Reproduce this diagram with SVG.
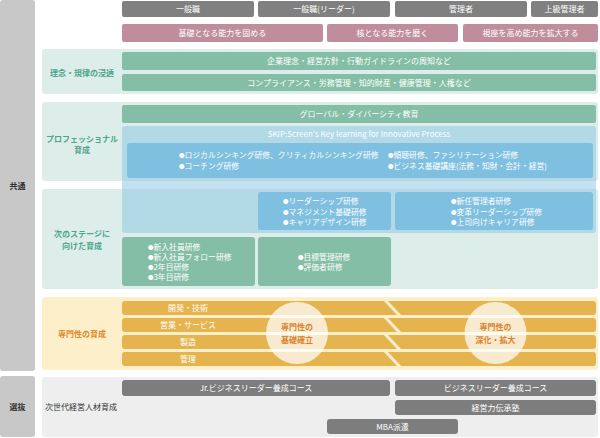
<svg xmlns="http://www.w3.org/2000/svg" width="600" height="438" viewBox="0 0 600 438">
<style>
text{font-family:"Noto Sans CJK JP","Noto Sans",sans-serif;font-size:8px;}
.w{fill:#fff;text-anchor:middle;}
.wl{fill:#fff;text-anchor:start;font-size:7.8px;}
.bu{font-size:5.5px;}
.lab{fill:#4fa58a;font-weight:bold;text-anchor:middle;}
.side{fill:#333;font-weight:bold;text-anchor:middle;}
.gh{fill:#808080;}
.pk{fill:#c08d9c;}
.tbg{fill:#ddeeea;}
.tb{fill:#84bea6;}
.bb{fill:#7fbfdf;}
.yb{fill:#e5b44f;}
.db{fill:#7d7d7d;}
.dia{stroke:#fcefc9;stroke-width:3;}
.circ{fill:#fff;fill-opacity:0.72;}
.ot{fill:#d9822b;font-weight:bold;text-anchor:middle;}
</style>
<rect width="600" height="438" fill="#fff"/>
<g id="side-common"><rect x="0" y="0" width="35" height="371" rx="3" fill="#c8c8c8"/><text class="side" x="17.5" y="189">共通</text></g>
<g id="side-select"><rect x="0" y="376" width="35" height="61" rx="3" fill="#c8c8c8"/><text class="side" x="17.5" y="410">選抜</text></g>

<g id="head1"><rect class="gh" x="122" y="1" width="132" height="16" rx="2"/><text class="w" x="188" y="12">一般職</text></g>
<g id="head2"><rect class="gh" x="258" y="1" width="132" height="16" rx="2"/><text class="w" x="324" y="12">一般職(リーダー)</text></g>
<g id="head3"><rect class="gh" x="395" y="1" width="132" height="16" rx="2"/><text class="w" x="461" y="12">管理者</text></g>
<g id="head4"><rect class="gh" x="531" y="1" width="67" height="16" rx="2"/><text class="w" x="564.5" y="12">上級管理者</text></g>

<g id="goal1"><rect class="pk" x="122" y="24" width="201" height="18" rx="2"/><text class="w" x="222.5" y="36">基礎となる能力を固める</text></g>
<g id="goal2"><rect class="pk" x="327" y="24" width="131" height="18" rx="2"/><text class="w" x="392.5" y="36">核となる能力を磨く</text></g>
<g id="goal3"><rect class="pk" x="463" y="24" width="135" height="18" rx="2"/><text class="w" x="530.5" y="36">視座を高め能力を拡大する</text></g>

<g id="sec1">
<rect class="tbg" x="42" y="49" width="556" height="45" rx="3"/>
<text class="lab" x="82" y="75.5">理念・規律の浸透</text>
<rect class="tb" x="122" y="52" width="474" height="18" rx="2"/>
<text class="w" x="359" y="64">企業理念・経営方針・行動ガイドラインの周知など</text>
<rect class="tb" x="122" y="74" width="474" height="17" rx="2"/>
<text class="w" x="359" y="85.5">コンプライアンス・労務管理・知的財産・健康管理・人権など</text>
</g>

<g id="sec2">
<rect class="tbg" x="42" y="102" width="556" height="79" rx="3"/>
<text class="lab" x="82" y="142">プロフェッショナル</text>
<text class="lab" x="82" y="153">育成</text>
<rect class="tb" x="122" y="105" width="474" height="18" rx="2"/>
<text class="w" x="359" y="117">グローバル・ダイバーシティ教育</text>
</g>

<g id="sec3">
<rect class="tbg" x="42" y="189" width="556" height="100" rx="3"/>
<text class="lab" x="82" y="237">次のステージに</text>
<text class="lab" x="82" y="249">向けた育成</text>
</g>

<g id="skip">
<rect x="122" y="126" width="474" height="107" rx="3" fill="#87c3e1" fill-opacity="0.5"/>
<text class="w" x="359" y="137">SKIP:Screen's Key learning for Innovative Process</text>
<rect class="bb" x="127" y="143" width="466" height="35" rx="3"/>
<text class="wl" x="179" y="158"><tspan class="bu">●</tspan>ロジカルシンキング研修、クリティカルシンキング研修</text>
<text class="wl" x="179" y="169"><tspan class="bu">●</tspan>コーチング研修</text>
<text class="wl" x="388" y="158"><tspan class="bu">●</tspan>傾聴研修、ファシリテーション研修</text>
<text class="wl" x="388" y="169"><tspan class="bu">●</tspan>ビジネス基礎講座(法務・知財・会計・経営)</text>
</g>

<g id="leader">
<rect class="bb" x="258" y="192" width="133" height="38" rx="3"/>
<text class="wl" x="283" y="204"><tspan class="bu">●</tspan>リーダーシップ研修</text>
<text class="wl" x="283" y="214.5"><tspan class="bu">●</tspan>マネジメント基礎研修</text>
<text class="wl" x="283" y="225"><tspan class="bu">●</tspan>キャリアデザイン研修</text>
</g>
<g id="manager">
<rect class="bb" x="395" y="192" width="198" height="38" rx="3"/>
<text class="wl" x="451" y="204"><tspan class="bu">●</tspan>新任管理者研修</text>
<text class="wl" x="451" y="214.5"><tspan class="bu">●</tspan>変革リーダーシップ研修</text>
<text class="wl" x="451" y="225"><tspan class="bu">●</tspan>上司向けキャリア研修</text>
</g>
<g id="newcomer">
<rect class="tb" x="122" y="237" width="133" height="49" rx="3"/>
<text class="wl" x="148" y="250"><tspan class="bu">●</tspan>新入社員研修</text>
<text class="wl" x="148" y="260"><tspan class="bu">●</tspan>新入社員フォロー研修</text>
<text class="wl" x="148" y="270"><tspan class="bu">●</tspan>2年目研修</text>
<text class="wl" x="148" y="280"><tspan class="bu">●</tspan>3年目研修</text>
</g>
<g id="evaluation">
<rect class="tb" x="258" y="237" width="133" height="49" rx="3"/>
<text class="wl" x="298" y="260"><tspan class="bu">●</tspan>目標管理研修</text>
<text class="wl" x="298" y="270"><tspan class="bu">●</tspan>評価者研修</text>
</g>

<g id="sec4">
<rect x="42" y="297" width="556" height="73" rx="3" fill="#fcefc9"/>
<text x="82" y="337" style="fill:#e0892c;font-weight:bold;text-anchor:middle">専門性の育成</text>
<rect class="yb" x="122" y="301" width="474" height="14" rx="3"/>
<rect class="yb" x="122" y="318" width="474" height="14" rx="3"/>
<rect class="yb" x="122" y="335" width="474" height="14" rx="3"/>
<rect class="yb" x="122" y="352" width="474" height="14" rx="3"/>
<line class="dia" x1="385" y1="300" x2="400" y2="316"/>
<line class="dia" x1="385" y1="317" x2="400" y2="333"/>
<line class="dia" x1="385" y1="334" x2="400" y2="350"/>
<line class="dia" x1="385" y1="351" x2="400" y2="367"/>
<text class="w" x="188" y="311">開発・技術</text>
<text class="w" x="188" y="328">営業・サービス</text>
<text class="w" x="188" y="345">製造</text>
<text class="w" x="188" y="362">管理</text>
</g>
<g id="circle1"><circle class="circ" cx="297" cy="333" r="31"/><text class="ot" x="297" y="330">専門性の</text><text class="ot" x="297" y="343">基礎確立</text></g>
<g id="circle2"><circle class="circ" cx="495.5" cy="333" r="31"/><text class="ot" x="495.5" y="330">専門性の</text><text class="ot" x="495.5" y="343">深化・拡大</text></g>

<g id="sec5">
<rect x="42" y="377" width="556" height="60" rx="3" fill="#eeeeee"/>
<text x="45" y="410" style="fill:#333">次世代経営人材育成</text>
</g>
<g id="jr"><rect class="db" x="122" y="380" width="268" height="16" rx="3"/><text class="w" x="256" y="391">Jr.ビジネスリーダー養成コース</text></g>
<g id="bl"><rect class="db" x="395" y="380" width="201" height="16" rx="3"/><text class="w" x="495.5" y="391">ビジネスリーダー養成コース</text></g>
<g id="keiei"><rect class="db" x="395" y="400" width="201" height="15" rx="3"/><text class="w" x="495.5" y="410.5">経営力伝承塾</text></g>
<g id="mba"><rect class="db" x="327" y="419" width="131" height="15" rx="3"/><text class="w" x="392.5" y="429.5">MBA派遣</text></g>
<g id="connectors"></g>
</svg>
